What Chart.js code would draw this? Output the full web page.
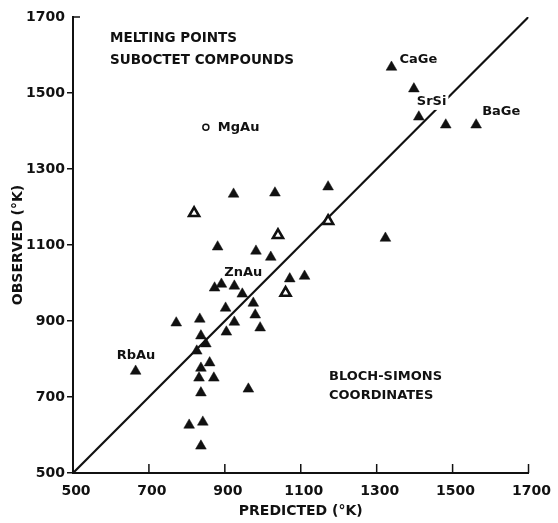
<!DOCTYPE html>
<html><head><meta charset="utf-8">
<script src="https://cdn.jsdelivr.net/npm/chart.js@4"></script>
<style>html,body{margin:0;padding:0;background:#fff}#wrap{width:558px;height:523px;position:relative}</style>
</head><body><div id="wrap"><canvas id="c"></canvas></div>
<script>
// Predicted (x) and observed (y) melting points, °K
const predictedFilled = [1339,1398,1411,1482,1562,1172,1323,923,1032,881,982,1021,1071,1110,873,891,925,946,975,902,925,904,980,993,665,772,834,837,850,826,860,837,832,871,837,962,806,842,837];
const observedFilled  = [1568,1511,1437,1416,1416,1253,1118,1234,1237,1095,1084,1068,1011,1018,987,997,992,971,947,934,897,871,916,882,768,895,905,861,840,821,790,776,750,750,711,721,626,634,571];
const predictedOpen = [819,1040,1172,1060];
const observedOpen  = [1184,1126,1163,974];
const predictedCircle = [850];
const observedCircle  = [1410];
const diagonalEnds = [500,1700];
const tickValues = [500,700,900,1100,1300,1500,1700];
const compoundNames = ['CaGe','SrSi','BaGe','ZnAu','RbAu','MgAu'];
const compoundIndex = [0,2,4,16,24,-1]; // -1 -> the open circle
const titleLines = ['MELTING POINTS','SUBOCTET COMPOUNDS'];
const coordLines = ['BLOCH-SIMONS','COORDINATES'];

const INK = '#111';
const toPts = (xs, ys) => xs.map((v,i)=>({x:v,y:ys[i]}));

const labelOffsets = { CaGe:[8,-8], SrSi:[-2,-15], BaGe:[6,-13], ZnAu:[-10,-13], RbAu:[-19,-16], MgAu:[12,0] };

const annot = {
  id:'annot',
  afterDatasetsDraw(chart){
    const {ctx, scales:{x,y}, chartArea:a} = chart;
    ctx.save();
    ctx.strokeStyle = INK; ctx.lineWidth = 1.5;
    tickValues.slice(1).forEach(v=>{
      const px = x.getPixelForValue(v);
      ctx.beginPath(); ctx.moveTo(px, a.bottom); ctx.lineTo(px, a.bottom-9); ctx.stroke();
    });
    const ty = y.getPixelForValue(1700);
    ctx.beginPath(); ctx.moveTo(a.left, ty); ctx.lineTo(a.left+7, ty); ctx.stroke();

    ctx.fillStyle = INK;
    ctx.font = 'bold 13px "DejaVu Sans"';
    ctx.textBaseline = 'middle'; ctx.textAlign = 'left';
    compoundNames.forEach((name,i)=>{
      const idx = compoundIndex[i];
      const vx = idx < 0 ? predictedCircle[0] : predictedFilled[idx];
      const vy = idx < 0 ? observedCircle[0] : observedFilled[idx];
      const [dx,dy] = labelOffsets[name];
      const px = x.getPixelForValue(vx)+dx, py = y.getPixelForValue(vy)+dy;
      if (name==='SrSi') {
        const w = ctx.measureText(name).width;
        ctx.fillStyle='#fff'; ctx.fillRect(px-2, py-8, w+4, 16); ctx.fillStyle=INK;
      }
      ctx.fillText(name, px, py);
    });
    ctx.font = 'bold 13.5px "DejaVu Sans"';
    titleLines.forEach((t,i)=>ctx.fillText(t, 110, 38+i*22));
    ctx.font = 'bold 13px "DejaVu Sans"';
    coordLines.forEach((t,i)=>ctx.fillText(t, 329, 377+i*19));
    ctx.restore();
  }
};

const setTicks = s => { s.ticks = tickValues.map(v=>({value:v})); };
const plain = v => String(v);

Chart.defaults.font.family = '"DejaVu Sans", sans-serif';
Chart.defaults.color = INK;

new Chart(document.getElementById('c'), {
  type:'scatter',
  data:{ datasets:[
    { type:'line', data: diagonalEnds.map(v=>({x:v,y:v})), borderColor:INK, borderWidth:2.2, pointRadius:0, fill:false, order:3 },
    { data: toPts(predictedFilled, observedFilled), pointStyle:'triangle', radius:6.2, backgroundColor:INK, borderColor:INK, borderWidth:0.5, order:1 },
    { data: toPts(predictedOpen, observedOpen), pointStyle:'triangle', radius:5.8, backgroundColor:'#fff', borderColor:INK, borderWidth:2.6, order:1 },
    { data: toPts(predictedCircle, observedCircle), pointStyle:'circle', radius:3, backgroundColor:'#fff', borderColor:INK, borderWidth:1.5, order:1 }
  ]},
  options:{
    responsive:true, maintainAspectRatio:false, animation:false, devicePixelRatio:1,
    layout:{ padding:{ top:17, right:23, left:0, bottom:0 } },
    plugins:{ legend:{display:false}, tooltip:{enabled:false} },
    events:[],
    scales:{
      x:{ type:'linear', min:500, max:1700, afterBuildTicks:setTicks, afterFit:s=>{s.height=50;},
        grid:{ display:false, drawTicks:false },
        border:{ display:true, color:INK, width:2 },
        ticks:{ font:{size:14, weight:'bold'}, color:INK, padding:10, labelOffset:3, maxRotation:0, autoSkip:false, callback:plain },
        title:{ display:true, text:'PREDICTED (°K)', font:{size:14, weight:'bold'}, color:INK, padding:{top:0,bottom:3} } },
      y:{ type:'linear', min:500, max:1700, afterBuildTicks:setTicks, afterFit:s=>{s.width=73;},
        grid:{ drawOnChartArea:false, drawTicks:true, tickLength:6, lineWidth:1.5,
          color: c => (c.tick && c.tick.value===1700) ? 'rgba(0,0,0,0)' : INK },
        border:{ display:true, color:INK, width:2 },
        ticks:{ font:{size:14, weight:'bold'}, color:INK, padding:2, autoSkip:false, callback:plain },
        title:{ display:true, text:'OBSERVED (°K)', font:{size:14, weight:'bold'}, color:INK, padding:{top:10,bottom:0} } }
    }
  },
  plugins:[annot]
});
</script></body></html>
